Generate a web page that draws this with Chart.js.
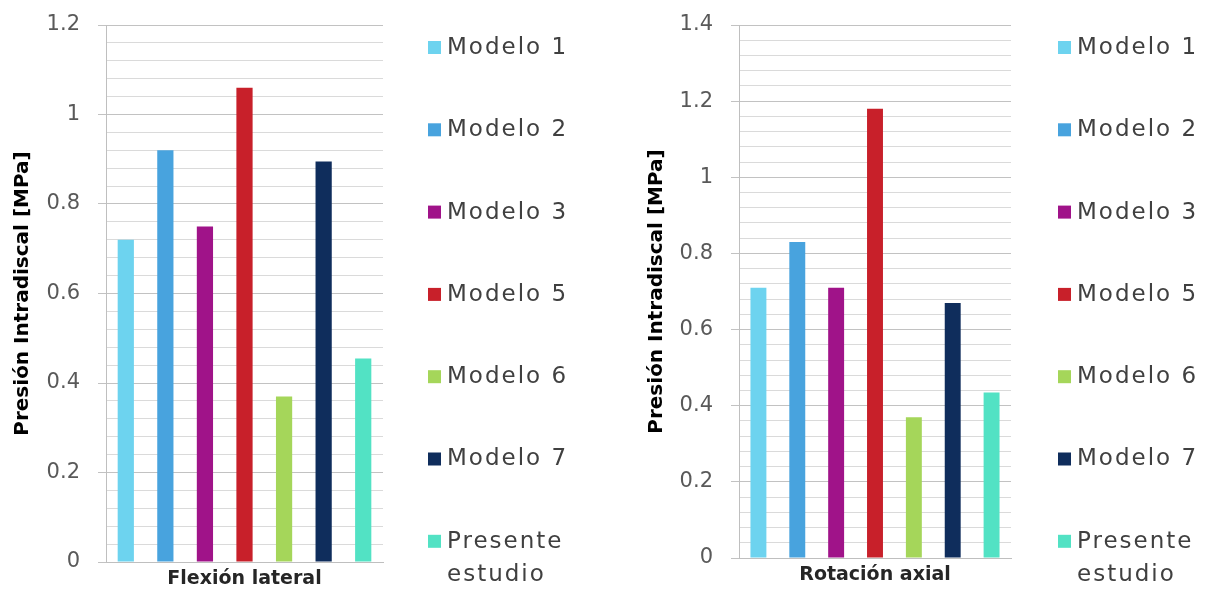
<!DOCTYPE html>
<html>
<head>
<meta charset="utf-8">
<script src="https://cdn.jsdelivr.net/npm/chart.js@4/dist/chart.umd.min.js"></script>
<style>
  body { margin: 0; background: #fff; }
  .box { position: absolute; top: 0; height: 591px; }
  #left { left: 0; width: 600px; }
  #right { left: 600px; width: 605px; }
</style>
</head>
<body>
<div class="box" id="left"><canvas id="chartFlexion" width="600" height="591"></canvas></div>
<div class="box" id="right"><canvas id="chartRotacion" width="605" height="591"></canvas></div>
<script>
const modelNames = ['Modelo 1', 'Modelo 2', 'Modelo 3', 'Modelo 5', 'Modelo 6', 'Modelo 7', 'Presente estudio'];
const modelColors = ['#6dd3ef', '#48a3de', '#a01389', '#c8202a', '#a5d65a', '#0f2d5c', '#52e2c4'];

const flexionLabel = ['Flexión lateral'];
const flexionValues = [0.72, 0.92, 0.75, 1.06, 0.37, 0.895, 0.455];

const rotacionLabel = ['Rotación axial'];
const rotacionValues = [0.71, 0.83, 0.71, 1.18, 0.37, 0.67, 0.435];

const yTitle = 'Presión Intradiscal [MPa]';
const FONT = "'DejaVu Sans', sans-serif";

// legend drawn next to the plot, one row per dataset
const sideLegend = {
    id: 'sideLegend',
    afterDraw(chart, args, opts) {
        const ctx = chart.ctx;
        const x = chart.chartArea.right + opts.offsetX;
        ctx.save();
        ctx.font = '23px ' + FONT;
        ctx.textBaseline = 'middle';
        ctx.textAlign = 'left';
        if ('letterSpacing' in ctx) ctx.letterSpacing = '2px';
        chart.data.datasets.forEach((ds, i) => {
            const y = opts.firstY + i * opts.stepY;
            ctx.fillStyle = ds.backgroundColor;
            ctx.fillRect(x, y - 6, 13, 13);
            // wrap long labels into lines
            const words = ds.label.split(' ');
            const lines = [];
            let line = '';
            words.forEach(w => {
                const test = line ? line + ' ' + w : w;
                if (line && ctx.measureText(test).width > opts.maxWidth) {
                    lines.push(line);
                    line = w;
                } else {
                    line = test;
                }
            });
            lines.push(line);
            ctx.fillStyle = '#404040';
            lines.forEach((l, j) => ctx.fillText(l, x + 19, y + 1 + j * 33));
        });
        ctx.restore();
    }
};

function makeChart(canvasId, category, values, yMax, axisWidth, xHeight, rightPad, titlePad, legendOffset) {
    const datasets = modelNames.map((name, i) => ({
        label: name,
        data: [values[i]],
        backgroundColor: modelColors[i],
        barPercentage: 0.41,
        categoryPercentage: 1
    }));
    const isMajor = v => Math.abs(v / 0.2 - Math.round(v / 0.2)) < 1e-6;
    return new Chart(document.getElementById(canvasId), {
        type: 'bar',
        data: { labels: category, datasets: datasets },
        plugins: [sideLegend],
        options: {
            responsive: false,
            animation: false,
            layout: { padding: { top: 25, right: rightPad, bottom: 0, left: 0 } },
            plugins: {
                legend: { display: false },
                tooltip: { enabled: false },
                sideLegend: { offsetX: legendOffset, firstY: 47, stepY: 82.3, maxWidth: 150 }
            },
            scales: {
                x: {
                    grid: { display: false, drawTicks: false },
                    border: { display: true, color: '#bfbfbf', width: 1 },
                    ticks: { color: '#262626', padding: 6, font: { family: FONT, size: 19, weight: 'bold' } },
                    afterFit: s => { s.height = xHeight; }
                },
                y: {
                    min: 0,
                    max: yMax,
                    afterFit: s => {
                        s.width = axisWidth;
                        s.paddingTop = 0;
                        s.paddingBottom = 0;
                    },
                    ticks: {
                        stepSize: 0.04,
                        autoSkip: false,
                        padding: 18,
                        color: '#595959',
                        font: { family: FONT, size: 21 },
                        callback: v => isMajor(v) ? String(Number(v.toFixed(1))) : ''
                    },
                    grid: {
                        tickLength: 8,
                        color: ctx => isMajor(ctx.tick.value) ? '#c2c2c2' : '#dadada',
                        tickColor: ctx => isMajor(ctx.tick.value) ? '#c2c2c2' : 'rgba(0,0,0,0)'
                    },
                    border: { color: '#bfbfbf', width: 1 },
                    title: {
                        display: true,
                        text: yTitle,
                        color: '#000',
                        padding: { top: titlePad, bottom: 0 },
                        font: { family: FONT, size: 20, weight: 'bold' }
                    }
                }
            }
        }
    });
}

makeChart('chartFlexion', flexionLabel, flexionValues, 1.2, 106, 29, 217, 11, 45);
makeChart('chartRotacion', rotacionLabel, rotacionValues, 1.4, 139, 33, 194, 45, 47);
</script>
</body>
</html>
